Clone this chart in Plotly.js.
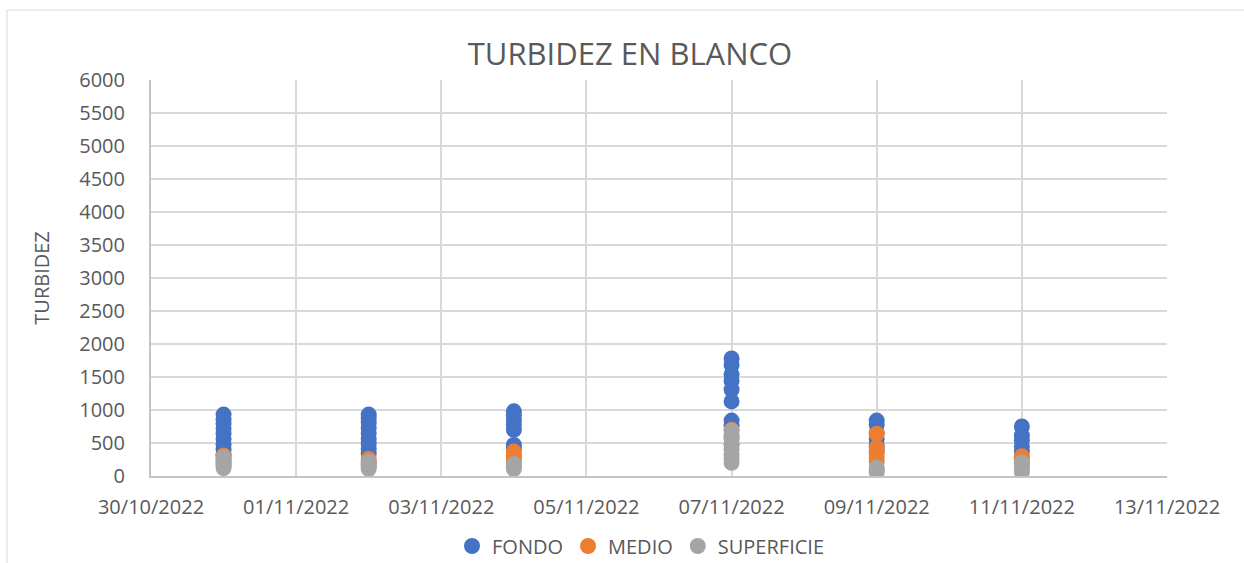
<!DOCTYPE html>
<html>
<head>
<meta charset="utf-8">
<script src="https://cdn.plot.ly/plotly-3.0.1.min.js"></script>
<style>
  html, body { margin: 0; padding: 0; background: #ffffff; }
  #chart { width: 1244px; height: 563px; }
</style>
</head>
<body>
<div id="chart"></div>
<script>
// ---- Data ----
const seriesNames = ["FONDO", "MEDIO", "SUPERFICIE"];
const seriesColors = ["#4472C4", "#ED7D31", "#A5A5A5"];

const fondoDates = [
  "2022-10-31","2022-10-31","2022-10-31","2022-10-31","2022-10-31","2022-10-31","2022-10-31","2022-10-31","2022-10-31",
  "2022-11-02","2022-11-02","2022-11-02","2022-11-02","2022-11-02","2022-11-02","2022-11-02","2022-11-02","2022-11-02",
  "2022-11-04","2022-11-04","2022-11-04","2022-11-04","2022-11-04","2022-11-04","2022-11-04",
  "2022-11-07","2022-11-07","2022-11-07","2022-11-07","2022-11-07","2022-11-07","2022-11-07","2022-11-07",
  "2022-11-09","2022-11-09","2022-11-09","2022-11-09","2022-11-09","2022-11-09",
  "2022-11-11","2022-11-11","2022-11-11","2022-11-11","2022-11-11"
];
const fondoValues = [
  930, 860, 790, 720, 640, 560, 480, 400, 330,
  930, 880, 810, 730, 650, 570, 490, 410, 340,
  980, 920, 850, 780, 700, 470, 420,
  1780, 1680, 1540, 1440, 1310, 1130, 840, 770,
  840, 780, 650, 560, 460, 380,
  750, 610, 540, 450, 370
];

const medioDates = [
  "2022-10-31","2022-10-31","2022-10-31","2022-10-31",
  "2022-11-02","2022-11-02","2022-11-02",
  "2022-11-04","2022-11-04","2022-11-04","2022-11-04",
  "2022-11-07","2022-11-07","2022-11-07","2022-11-07",
  "2022-11-09","2022-11-09","2022-11-09","2022-11-09","2022-11-09",
  "2022-11-11","2022-11-11","2022-11-11"
];
const medioValues = [
  310, 260, 220, 180,
  260, 220, 180,
  370, 310, 260, 210,
  700, 620, 560, 480,
  640, 430, 350, 280, 220,
  300, 250, 190
];

const superficieDates = [
  "2022-10-31","2022-10-31","2022-10-31","2022-10-31","2022-10-31",
  "2022-11-02","2022-11-02","2022-11-02","2022-11-02",
  "2022-11-04","2022-11-04","2022-11-04",
  "2022-11-07","2022-11-07","2022-11-07","2022-11-07","2022-11-07","2022-11-07","2022-11-07",
  "2022-11-09","2022-11-09","2022-11-09",
  "2022-11-11","2022-11-11","2022-11-11","2022-11-11"
];
const superficieValues = [
  290, 240, 190, 150, 120,
  220, 180, 140, 110,
  180, 140, 110,
  690, 580, 480, 400, 330, 260, 200,
  130, 90, 60,
  210, 160, 110, 60
];

const xRange = ["2022-10-30", "2022-11-13"];
const yRange = [0, 6000];

const chartTitle = "TURBIDEZ EN BLANCO";
const yTitle = "TURBIDEZ";

// ---- Build traces ----
const xs = [fondoDates, medioDates, superficieDates];
const ys = [fondoValues, medioValues, superficieValues];

const traces = seriesNames.map((name, i) => ({
  type: "scatter",
  mode: "markers",
  name: name,
  x: xs[i],
  y: ys[i],
  marker: { color: seriesColors[i], size: 16, line: { width: 0 } }
}));

const textColor = "#595959";
const gridColor = "#d9d9d9";
const fontFamily = "Open Sans, Lato, sans-serif";

const L = 151, R = 77, T = 80, B = 87, W = 1244, H = 563;
const plotW = W - L - R, plotH = H - T - B;

const layout = {
  width: W,
  height: H,
  margin: { l: L, r: R, t: T, b: B, pad: 0 },
  paper_bgcolor: "#ffffff",
  plot_bgcolor: "#ffffff",
  font: { family: fontFamily, color: textColor, size: 20 },
  title: {
    text: chartTitle,
    font: { family: fontFamily, size: 31, color: textColor },
    xref: "container", x: 630 / W, xanchor: "center",
    yref: "container", y: 1 - 54 / H, yanchor: "middle"
  },
  xaxis: {
    type: "date",
    range: xRange,
    tick0: xRange[0],
    dtick: 2 * 86400000,
    tickformat: "%d/%m/%Y",
    showgrid: true,
    gridcolor: gridColor,
    gridwidth: 2,
    showline: true,
    linecolor: "#c4c4c4",
    linewidth: 2,
    ticks: "",
    ticklabelstandoff: 12,
    tickfont: { family: fontFamily, size: 20, color: textColor },
    zeroline: false,
    fixedrange: true
  },
  yaxis: {
    range: yRange,
    dtick: 500,
    tick0: 0,
    showgrid: true,
    gridcolor: gridColor,
    gridwidth: 2,
    showline: true,
    linecolor: "#c4c4c4",
    linewidth: 2,
    ticks: "",
    ticklabelstandoff: 20,
    tickfont: { family: fontFamily, size: 20, color: textColor },
    zeroline: false,
    fixedrange: true
  },
  showlegend: true,
  legend: {
    orientation: "h",
    xref: "container", x: 641 / W, xanchor: "center",
    yref: "container", y: 1 - 546 / H, yanchor: "middle",
    font: { family: fontFamily, size: 20, color: textColor },
    itemsizing: "trace",
    itemwidth: 30,
    tracegroupgap: 0,
    bgcolor: "rgba(0,0,0,0)"
  },
  annotations: [{
    text: yTitle,
    xref: "paper", yref: "paper",
    x: (40.7 - L) / plotW, y: 0.5,
    xanchor: "center", yanchor: "middle",
    textangle: -90,
    showarrow: false,
    font: { family: fontFamily, size: 20, color: textColor }
  }],
  shapes: [
    { type: "line", xref: "paper", yref: "paper",
      x0: (7 - L) / plotW, x1: (7 - L) / plotW,
      y0: 1 + (T - 10) / plotH, y1: -(B + 5) / plotH,
      line: { color: gridColor, width: 1 } },
    { type: "line", xref: "paper", yref: "paper",
      x0: (7 - L) / plotW, x1: (W + 5 - L) / plotW,
      y0: 1 + (T - 10) / plotH, y1: 1 + (T - 10) / plotH,
      line: { color: gridColor, width: 1 } }
  ]
};

Plotly.newPlot("chart", traces, layout, { displayModeBar: false, staticPlot: true });
</script>
</body>
</html>
